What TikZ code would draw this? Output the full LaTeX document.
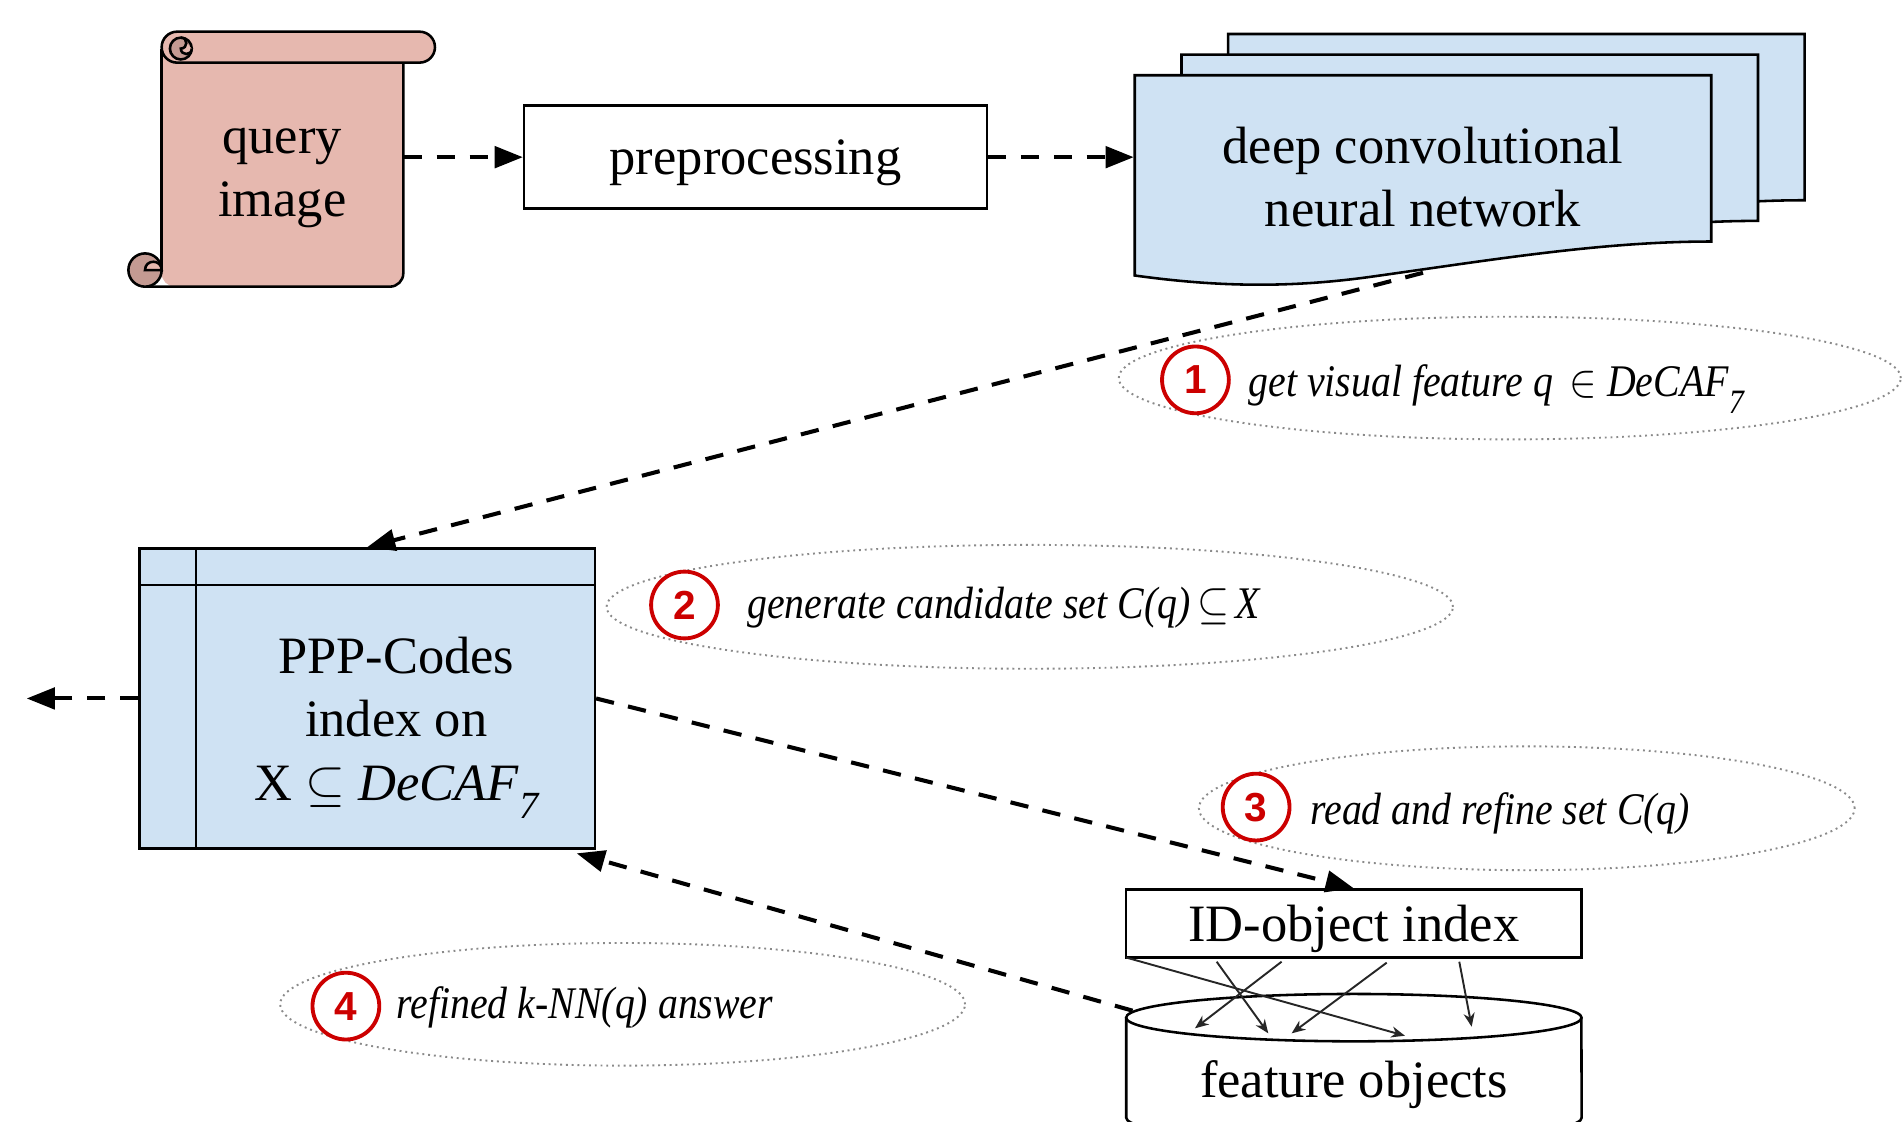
\documentclass[tikz,border=0pt]{standalone}
\usepackage{fontspec}
\setmainfont{Liberation Serif}
\setsansfont{Liberation Sans}
\usepackage{graphicx}
\usetikzlibrary{arrows.meta,shapes.geometric,calc}
\definecolor{scrollpink}{HTML}{E6B8AF}
\definecolor{scrolldark}{HTML}{C49A92}
\definecolor{paleblue}{HTML}{CFE2F3}
\definecolor{numred}{HTML}{CC0000}
\definecolor{dotgray}{HTML}{8A8A8A}
\newcommand{\mainsize}{\fontsize{12.3}{14.8}\selectfont}
\newcommand{\notesize}{\fontsize{10.6}{12}\selectfont}
\newcommand{\subseven}[1]{\raisebox{-0.36em}[0pt][0pt]{\fontsize{#1}{#1}\selectfont\itshape 7}}
\tikzset{
  outline/.style={draw=black, line width=0.6pt},
  box/.style={draw=black, line width=0.6pt, inner sep=0pt, font=\mainsize, align=center},
  plain/.style={inner sep=0pt, font=\mainsize, align=center},
  arr/.style={line width=0.95pt, dash pattern=on 4.3pt off 3.4pt,
              -{Triangle[length=6.6pt,width=5pt]}},
  thinarr/.style={line width=0.45pt, draw=black!85,
              -{Stealth[length=3.2pt,width=2.6pt]}},
  note/.style={ellipse, draw=dotgray, line width=0.45pt,
              dash pattern=on 0.45pt off 0.9pt, inner sep=0pt},
  numc/.style={circle, draw=numred, line width=0.9pt, minimum size=0.55cm,
              inner sep=0pt, text=numred,
              font=\sffamily\bfseries\fontsize{9.5}{9.5}\selectfont},
  notetext/.style={anchor=base west, inner sep=0pt, font=\notesize\itshape},
  sheet/.style={draw=black, line width=0.6pt, fill=paleblue}
}
\begin{document}
\begin{tikzpicture}[x=0.01cm,y=-0.01cm]
\useasboundingbox (0,0) rectangle (1568,924);
\clip (0,0) rectangle (1568,924);

% ---------- scroll: query image ----------
\fill[scrollpink, rounded corners=0.11cm] (133.2,40) rectangle (332.3,236.2);
\draw[outline, rounded corners=0.11cm] (119.5,236.2) -- (332.3,236.2) -- (332.3,51.6);
\draw[outline] (133.2,40) -- (133.2,222.5);
\draw[outline, fill=scrollpink, rounded corners=0.127cm] (133.2,26.1) rectangle (358.4,51.6);
\draw[outline, fill=scrolldark] (149,40) circle (0.09cm);
\draw[outline, fill=scrollpink] (149,31) .. controls (155,31) and (155,40) .. (149,40)
  .. controls (149,46) and (158,46) .. (158,40);
\draw[outline, fill=scrolldark] (119.5,222.5) circle (0.137cm);
\draw[outline, fill=scrollpink] (119.5,222.5) .. controls (119.5,213.4) and (133.2,213.4) .. (133.2,222.5) -- cycle;
\node[plain, minimum width=1.99cm, minimum height=1.8cm] (query) at (232.5,147) {query\\image};

% ---------- preprocessing ----------
\node[box, text depth=0pt, minimum width=3.81cm, minimum height=0.85cm] (prep) at (622.5,129.5) {preprocessing};

% ---------- stacked network sheets ----------
\foreach \dx/\dy in {77/-34, 38.5/-17, 0/0}{
  \begin{scope}[shift={(\dx,\dy)}]
    \draw[sheet] (935,62) -- (1410,62) -- (1410,199)
      .. controls (1320,199) and (1230,214) .. (1130,228)
      .. controls (1060,237.8) and (1000,236) .. (935,227) -- cycle;
  \end{scope}
}
\node[plain, minimum width=4.75cm, minimum height=1.56cm] (dcnn) at (1172.5,146)
  {deep convolutional\\neural network};

% ---------- PPP-Codes index ----------
\node[box, fill=paleblue, minimum width=3.75cm, minimum height=2.47cm] (ppp) at (302.5,575.5) {};
\draw[outline] ($(ppp.north west)+(47.6,0)$) -- ($(ppp.south west)+(47.6,0)$);
\draw[outline] ($(ppp.north west)+(0,31)$) -- ($(ppp.north east)+(0,31)$);
\node[plain] (ppptxt) at (326.5,595)
  {PPP-Codes\\index on\\X $\subseteq$ \textit{DeCAF}\subseven{9}};
\coordinate (outp) at (22,575.5);

% ---------- ID-object index and feature store ----------
\node[box, fill=white, text depth=0pt, minimum width=3.75cm, minimum height=0.56cm] (idx) at (1115.5,761) {ID-object index};
\fill[white] (928,838.5) rectangle (1303,921);
\draw[outline] (928,838.5) -- (928,921)
  arc[start angle=180, end angle=360, x radius=1.875cm, y radius=0.195cm] -- (1303,838.5);
\draw[outline, fill=white] (1115.5,838.5) ellipse [x radius=1.875cm, y radius=0.195cm];
\node[plain, minimum width=3.75cm, minimum height=1.11cm] (feat) at (1115.5,894) {feature objects};

\draw[thinarr] (928,789) -- (1157.6,853.4);
\draw[thinarr] (1002.5,792.4) -- (1045,851.4);
\draw[thinarr] (1056,792.4) -- (984.6,847.3);
\draw[thinarr] (1142.6,793.2) -- (1064.3,851.4);
\draw[thinarr] (1202.4,792.4) -- (1212.6,846);

% ---------- step annotations ----------
\node[note, minimum width=6.44cm, minimum height=1.01cm] (s1) at (1244,311.5) {};
\node[note, minimum width=6.97cm, minimum height=1.02cm] (s2) at (848.5,500) {};
\node[note, minimum width=5.40cm, minimum height=1.02cm] (s3) at (1258,666) {};
\node[note, minimum width=5.64cm, minimum height=1.01cm] (s4) at (513,827.5) {};

\node[numc] (n1) at (985,313) {1};
\node[numc] (n2) at (564,498.5) {2};
\node[numc] (n3) at (1035,665) {3};
\node[numc] (n4) at (285,829) {4};

\node[notetext] (t1) at (1028,327)
  {\scalebox{0.88}[1]{get visual feature q\, $\in$ DeCAF\subseven{8}}};
\node[notetext] (t2) at (615,510)
  {\scalebox{0.88}[1]{generate candidate set C(q)\,$\subseteq$\,X}};
\node[notetext] (t3) at (1079,679)
  {\scalebox{0.88}[1]{read and refine set C(q)}};
\node[notetext] (t4) at (326,839)
  {\scalebox{0.88}[1]{refined k-NN(q) answer}};

% ---------- data flow ----------
\draw[arr] (query.east |- prep.west) -- (prep.west);
\draw[arr] (prep.east) -- (dcnn.west |- prep.east);
\draw[arr] (dcnn.south) -- (ppp.north);
\draw[arr] (ppp.west) -- (outp);
\draw[arr] (ppp.east) -- (idx.north);
\draw[arr] ([xshift=0.06cm,yshift=0.05cm]feat.north west) -- ([xshift=-0.16cm,yshift=-0.03cm]ppp.south east);
\end{tikzpicture}
\end{document}
